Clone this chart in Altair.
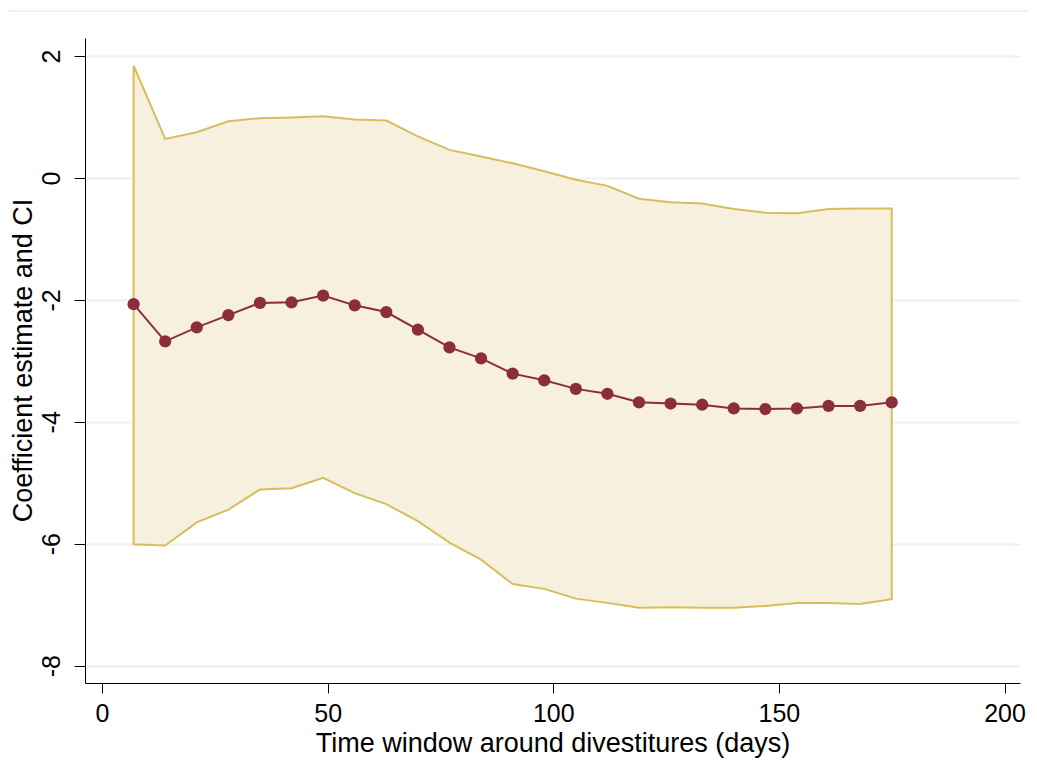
import altair as alt
import pandas as pd

days = [7, 14, 21, 28, 35, 42, 49, 56, 63, 70, 77, 84, 91, 98, 105, 112, 119, 126, 133, 140, 147, 154, 161, 168, 175]
coef = [-2.07, -2.68, -2.45, -2.25, -2.05, -2.04, -1.93, -2.09, -2.20, -2.49, -2.78, -2.96, -3.21, -3.32, -3.46, -3.54, -3.68, -3.70, -3.72, -3.78, -3.79, -3.78, -3.74, -3.74, -3.68]
ci_upper = [1.84, 0.64, 0.75, 0.93, 0.98, 0.99, 1.01, 0.96, 0.94, 0.68, 0.46, 0.35, 0.24, 0.11, -0.03, -0.13, -0.34, -0.40, -0.42, -0.51, -0.57, -0.58, -0.51, -0.50, -0.50]
ci_lower = [-6.01, -6.03, -5.65, -5.44, -5.11, -5.09, -4.92, -5.17, -5.35, -5.63, -5.98, -6.26, -6.66, -6.74, -6.90, -6.97, -7.05, -7.04, -7.05, -7.05, -7.02, -6.97, -6.97, -6.99, -6.91]
x_ticks = [0, 50, 100, 150, 200]
y_ticks = [2, 0, -2, -4, -6, -8]

df = pd.DataFrame({"days": days, "coef": coef, "hi": ci_upper, "lo": ci_lower})

FONT = "Liberation Sans"
x_scale = alt.Scale(domain=[-3.77, 203.43], nice=False, zero=False)
y_scale = alt.Scale(domain=[-8.284, 2.295], nice=False, zero=False)

x_axis = alt.Axis(
    values=x_ticks, grid=False, tickSize=10, tickColor="black", domainColor="black",
    labelFontSize=25, labelFont=FONT, labelColor="black", labelPadding=8,
    labelExpr="'' + datum.value",
    title="Time window around divestitures (days)", titleFont=FONT, titleFontSize=27,
    titleFontWeight="normal", titleColor="black", titleBaseline="middle", titleY=60,
)
y_axis = alt.Axis(
    values=y_ticks, grid=True, gridColor="#ebf1f3", gridWidth=2, tickSize=11,
    tickColor="black", domainColor="black",
    labelFontSize=25, labelFont=FONT, labelColor="black", labelAngle=270,
    labelAlign="center", labelBaseline="bottom", labelPadding=10,
    labelExpr="'' + datum.value",
    title="Coefficient estimate and CI", titleFont=FONT, titleFontSize=27,
    titleFontWeight="normal", titleColor="black", titleAngle=270,
    titleAlign="center", titleBaseline="middle", titleX=-62, titleY=322,
)

base = alt.Chart(df)

band = base.mark_area(fill="#f7f0df", stroke="#d8bd5c", strokeWidth=2, opacity=1).encode(
    x=alt.X("days:Q", scale=x_scale, axis=x_axis),
    y=alt.Y("hi:Q", scale=y_scale, axis=y_axis),
    y2="lo:Q",
)

line = base.mark_line(color="#8b2e3b", strokeWidth=2).encode(
    x=alt.X("days:Q", scale=x_scale),
    y=alt.Y("coef:Q", scale=y_scale),
)

pts = base.mark_point(filled=True, color="#8b2e3b", size=150, opacity=1).encode(
    x=alt.X("days:Q", scale=x_scale),
    y=alt.Y("coef:Q", scale=y_scale),
)

top_rule = alt.Chart(pd.DataFrame({"a": [0]})).mark_rule(color="#e9f0f2", strokeWidth=1.5).encode(
    x=alt.value(-77), x2=alt.value(952), y=alt.value(-27)
)

chart = alt.layer(band, line, pts, top_rule).properties(
    width=935, height=645,
    background="white",
    autosize=alt.AutoSizeParams(type="none"),
    padding={"left": 77, "top": 30, "right": 9, "bottom": 92},
).configure_view(strokeWidth=0)

chart.save("out.html", embed_options={"renderer": "svg", "actions": False})
